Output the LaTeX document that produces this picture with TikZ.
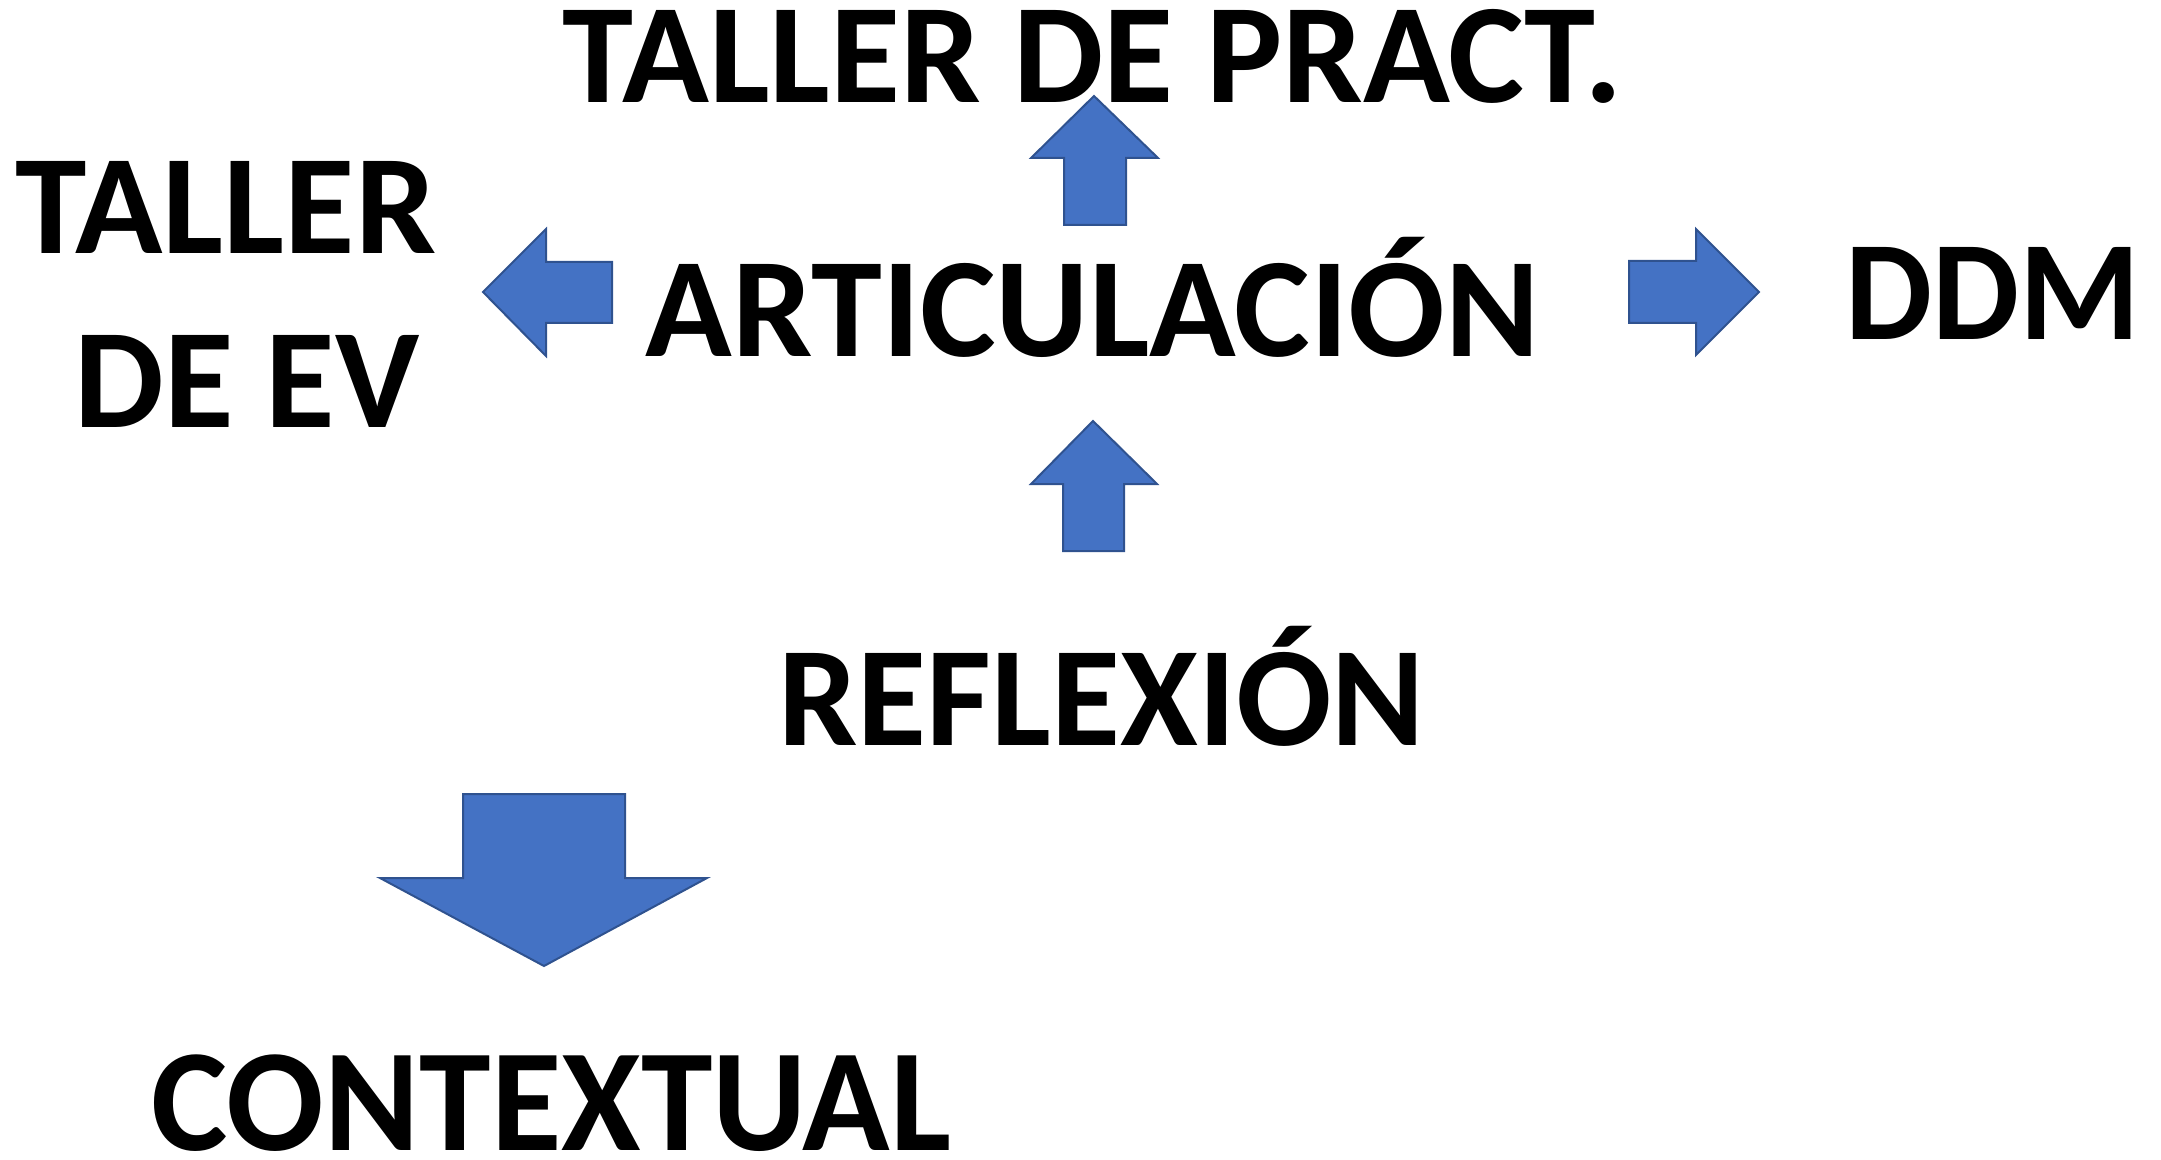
\documentclass[tikz,border=0pt]{standalone}
\usepackage{fontspec}
\usepackage{graphicx}
\setmainfont{Carlito}
\definecolor{arrfill}{HTML}{4472C4}
\definecolor{arrdraw}{HTML}{2F528F}
\newlength\mytw
\newcommand\fitw[2]{\settowidth\mytw{#2}\pgfmathsetmacro\myfac{#1/\mytw}\scalebox{\myfac}[1]{#2}}
\tikzset{
  txt/.style={inner sep=0pt, anchor=base west, font=\bfseries\fontsize{71}{80}\selectfont},
  bigtxt/.style={inner sep=0pt, anchor=base west, font=\bfseries\fontsize{73}{82}\selectfont},
  blockarrow/.style={fill=arrfill, draw=arrdraw, line width=1pt, line join=miter}
}
\begin{document}
\begin{tikzpicture}[x=0.5pt,y=-0.5pt]
\useasboundingbox (0,0) rectangle (2161,1160);
% texts
\node[txt] (prac) at (562,103) {\fitw{530pt}{TALLER DE PRACT.}};
\node[txt] (tal) at (15,254) {\fitw{210.5pt}{TALLER}};
\node[txt] (deev) at (74,427) {\fitw{172.5pt}{DE EV}};
\node[txt] (art) at (645,357) {\fitw{447pt}{ARTICULACIÓN}};
\node[txt] (ddm) at (1845,340) {\fitw{147.5pt}{DDM}};
\node[txt] (refl) at (778,745) {\fitw{323pt}{REFLEXIÓN}};
\node[bigtxt] (ctx) at (151,1150) {\fitw{400pt}{CONTEXTUAL}};
% block arrows
\draw[blockarrow] (1094,96) -- (1158,158) -- (1126,158) -- (1126,225) -- (1064,225) -- (1064,158) -- (1031,158) -- cycle;
\draw[blockarrow] (483,292) -- (546,229) -- (546,262) -- (612,262) -- (612,323) -- (546,323) -- (546,356) -- cycle;
\draw[blockarrow] (1093,421) -- (1157,484) -- (1124,484) -- (1124,551) -- (1063,551) -- (1063,484) -- (1031,484) -- cycle;
\draw[blockarrow] (1759,292) -- (1696,229) -- (1696,261) -- (1629,261) -- (1629,323) -- (1696,323) -- (1696,355) -- cycle;
\draw[blockarrow] (544,966) -- (707,878) -- (625,878) -- (625,794) -- (463,794) -- (463,878) -- (380,878) -- cycle;
\end{tikzpicture}
\end{document}
